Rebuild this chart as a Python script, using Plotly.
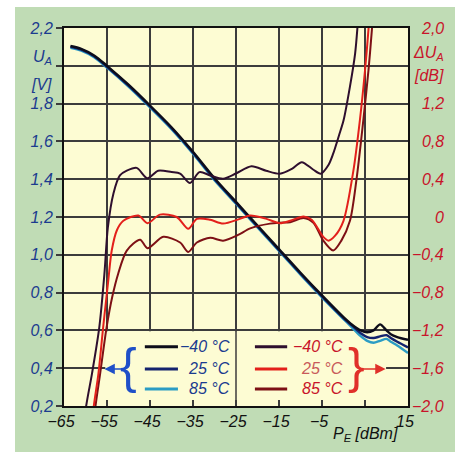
import plotly.graph_objects as go

# ---------------- data ----------------
# Output voltage U_A [V] vs input power P_E [dBm]
pe_ua = [-63.5, -61, -58, -55, -50, -45, -40, -35, -30, -25, -20, -15, -10, -5,
         0, 2, 4, 5.5, 7, 8.5, 10, 11, 12.5, 15]
ua_m40 = [2.105, 2.09, 2.055, 2.0, 1.90, 1.79, 1.675, 1.545, 1.405, 1.28, 1.155, 1.03, 0.905, 0.785,
          0.67, 0.63, 0.60, 0.59, 0.60, 0.632, 0.60, 0.58, 0.565, 0.55]
ua_25 = [2.10, 2.085, 2.05, 1.995, 1.895, 1.785, 1.67, 1.54, 1.40, 1.275, 1.15, 1.025, 0.90, 0.78,
         0.665, 0.625, 0.585, 0.565, 0.56, 0.568, 0.575, 0.56, 0.54, 0.51]
ua_85 = [2.095, 2.08, 2.045, 1.99, 1.89, 1.78, 1.665, 1.535, 1.395, 1.27, 1.145, 1.02, 0.895, 0.775,
         0.66, 0.615, 0.57, 0.545, 0.535, 0.545, 0.555, 0.54, 0.52, 0.48]

# Deviation dU_A [dB]
pe_m40 = [-60.6, -60.0, -58.5, -56.8, -55.6, -54.8, -53.5, -52, -50.4, -48.1, -45.6, -43.1, -40, -38,
          -35.7, -33.5, -31, -28, -25, -21.4, -18, -14.8, -12, -9.7, -7, -5.3, -3.5, -2.4, -1, 0,
          1.5, 2.7, 3.2, 3.5]
du_m40 = [-2.5, -2.05, -1.66, -1.17, -0.60, -0.11, 0.25, 0.44, 0.49, 0.52, 0.41, 0.49, 0.475, 0.46,
          0.36, 0.475, 0.44, 0.405, 0.46, 0.536, 0.49, 0.458, 0.51, 0.58, 0.50, 0.458, 0.55, 0.67, 0.87, 1.02,
          1.38, 1.73, 1.98, 2.2]
pe_25 = [-58.8, -58.2, -57.0, -55.9, -54.7, -53.9, -52.7, -51.2, -47.7, -45.6, -42.7, -38.8, -36.1, -34.1,
         -31, -28, -24.1, -21.7, -17.9, -14.8, -12.4, -9.3, -7.4, -4.7, -3.5, -2, 0, 2.3, 3.8, 5, 5.8, 6.1]
du_25 = [-2.5, -2.05, -1.66, -1.17, -0.67, -0.355, -0.14, -0.04, 0.016, -0.066, 0.025, 0.0, -0.125, -0.02,
         -0.03, -0.07, -0.02, 0.016, -0.02, -0.066, -0.04, 0.005, -0.03, -0.21, -0.25, -0.2, -0.04, 0.49,
         1.02, 1.55, 1.98, 2.2]
pe_85 = [-58.4, -57.8, -56.6, -55.1, -53.8, -52.4, -50.4, -47.3, -45.6, -41.9, -38, -36.1, -34.1, -31,
         -28, -24.5, -21.7, -17.1, -14.8, -12.4, -9.3, -7, -4.7, -2.4, -0.5, 1.5, 3.0, 4.6, 5.8, 6.6, 6.9]
du_85 = [-2.5, -2.05, -1.66, -1.17, -0.85, -0.60, -0.355, -0.24, -0.33, -0.21, -0.27, -0.37, -0.27, -0.22,
         -0.25, -0.19, -0.12, -0.07, -0.06, -0.055, -0.01, -0.06, -0.25, -0.355, -0.25, -0.04, 0.39, 1.02,
         1.55, 1.98, 2.2]

x_ticks = [-65, -55, -45, -35, -25, -15, -5, 5, 15]
x_labels = ["−65", "−55", "−45", "−35", "−25", "−15", "−5", "", "15"]
y_ticks = [0.2, 0.4, 0.6, 0.8, 1.0, 1.2, 1.4, 1.6, 1.8, 2.0, 2.2]
y_labels = ["0,2", "0,4", "0,6", "0,8", "1,0", "1,2", "1,4", "1,6", "1,8", "", "2,2"]
y2_ticks = [-2.0, -1.6, -1.2, -0.8, -0.4, 0.0, 0.4, 0.8, 1.2, 2.0]
y2_labels = ["−2,0", "−1,6", "−1,2", "−0,8", "−0,4", "0", "0,4", "0,8", "1,2", "2,0"]
legend_temps = ["−40 °C", "25 °C", "85 °C"]

# ---------------- style ----------------
FONT = "Liberation Sans, Arial, sans-serif"
BLUE_TXT = "#1b3b8f"
RED_TXT = "#c8142a"
GRID = "#3c3c3c"
C_UA = ["#0d0d1a", "#14236e", "#2b9cc4"]
C_DU = ["#2e0f2e", "#e3201b", "#7d1015"]


def it(s):
    return "<i>" + s + "</i>" if s else s


fig = go.Figure()
for x, y, c in [(pe_ua, ua_85, C_UA[2]), (pe_ua, ua_25, C_UA[1]), (pe_ua, ua_m40, C_UA[0])]:
    fig.add_trace(go.Scatter(x=x, y=y, mode="lines", line=dict(color=c, width=2.4, shape="spline", smoothing=0.8),
                             showlegend=False, hoverinfo="skip"))
for x, y, c in [(pe_85, du_85, C_DU[2]), (pe_25, du_25, C_DU[1]), (pe_m40, du_m40, C_DU[0])]:
    fig.add_trace(go.Scatter(x=x, y=y, yaxis="y2", mode="lines",
                             line=dict(color=c, width=2.0, shape="spline", smoothing=0.8),
                             showlegend=False, hoverinfo="skip"))

shapes = [
    # green frame and yellow plot area
    dict(type="rect", xref="paper", yref="paper", x0=-0.1424, x1=1.1366, y0=-0.1217, y1=1.0556,
         fillcolor="#c0dcb5", line=dict(width=0), layer="below"),
    dict(type="rect", xref="paper", yref="paper", x0=0, x1=1, y0=0, y1=1,
         fillcolor="#fdfcd3", line=dict(width=0), layer="below"),
    # legend panel hiding the grid
    dict(type="rect", xref="x", yref="y", x0=-55.4, x1=9.9, y0=0.227, y1=0.596,
         fillcolor="#fdfcd3", line=dict(width=0), layer="between"),
    dict(type="line", xref="x", yref="y", x0=-25, x1=-25, y0=0.2, y1=0.6,
         line=dict(color=GRID, width=1.5), layer="between"),
]
legend_rows = [0.513, 0.396, 0.290]
for i, yy in enumerate(legend_rows):
    shapes.append(dict(type="line", xref="x", yref="y", x0=-46.2, x1=-38.5, y0=yy, y1=yy,
                       line=dict(color=C_UA[i], width=3), layer="above"))
    shapes.append(dict(type="line", xref="x", yref="y", x0=-20.6, x1=-13.1, y0=yy, y1=yy,
                       line=dict(color=C_DU[i], width=3), layer="above"))

annotations = []
lab_font = dict(family=FONT, size=16, style="italic")
for i, yy in enumerate(legend_rows):
    annotations.append(dict(x=-25.9, y=yy, xref="x", yref="y", text=it(legend_temps[i]), showarrow=False,
                            xanchor="right", yanchor="middle", font=dict(lab_font, color=BLUE_TXT)))
    annotations.append(dict(x=0.4, y=yy, xref="x", yref="y", text=it(legend_temps[i]), showarrow=False,
                            xanchor="right", yanchor="middle",
                            font=dict(lab_font, color=("#c85a5a" if i == 1 else RED_TXT))))
# braces and arrows
annotations.append(dict(x=-50.0, y=0.41, xref="x", yref="y", text="{", showarrow=False,
                        xanchor="center", yanchor="middle",
                        font=dict(family="Liberation Sans", size=50, color="#1f4fc8")))
annotations.append(dict(x=-55.6, y=0.396, xref="x", yref="y", text="", showarrow=True, ax=22, ay=0,
                        arrowhead=2, arrowsize=1.3, arrowwidth=1.6, arrowcolor="#1f4fc8"))
annotations.append(dict(x=3.0, y=0.41, xref="x", yref="y", text="}", showarrow=False,
                        xanchor="center", yanchor="middle",
                        font=dict(family="Liberation Sans", size=50, color="#e0302a")))
annotations.append(dict(x=9.8, y=0.396, xref="x", yref="y", text="", showarrow=True, ax=-24, ay=0,
                        arrowhead=2, arrowsize=1.3, arrowwidth=1.6, arrowcolor="#e0302a"))
# right axis labels (right aligned)
for v, t in zip(y2_ticks, y2_labels):
    annotations.append(dict(x=1.1105, y=v, xref="paper", yref="y2", text=it(t), showarrow=False,
                            xanchor="right", yanchor="middle", font=dict(lab_font, color=RED_TXT)))
# axis titles
annotations += [
    dict(x=-0.029, y=2.045, xref="paper", yref="y", text=it("U<sub>A</sub>"), showarrow=False,
         xanchor="right", yanchor="middle", font=dict(lab_font, color=BLUE_TXT)),
    dict(x=-0.029, y=1.90, xref="paper", yref="y", text=it("[V]"), showarrow=False,
         xanchor="right", yanchor="middle", font=dict(lab_font, color=BLUE_TXT)),
    dict(x=1.1105, y=1.73, xref="paper", yref="y2", text=it("ΔU<sub>A</sub>"), showarrow=False,
         xanchor="right", yanchor="middle", font=dict(lab_font, color=RED_TXT)),
    dict(x=1.1105, y=1.50, xref="paper", yref="y2", text=it("[dB]"), showarrow=False,
         xanchor="right", yanchor="middle", font=dict(lab_font, color=RED_TXT)),
    dict(x=0.875, y=-0.075, xref="paper", yref="paper", text=it("P<sub>E</sub> [dBm]"), showarrow=False,
         xanchor="center", yanchor="middle", font=dict(lab_font, color="#111111")),
]

fig.update_layout(
    width=461, height=454,
    margin=dict(l=64, r=53, t=28, b=48),
    paper_bgcolor="white", plot_bgcolor="rgba(0,0,0,0)",
    showlegend=False,
    shapes=shapes, annotations=annotations,
    xaxis=dict(range=[-65, 15], tickvals=x_ticks, ticktext=[it(t) for t in x_labels], showgrid=True,
               gridcolor=GRID, gridwidth=1.5, zeroline=False, showline=True, mirror=True,
               linecolor="#111111", linewidth=2,
               ticks="inside", ticklen=6, tickwidth=1.5, tickcolor=GRID, ticklabelshift=-3,
               tickfont=dict(lab_font, color="#111111")),
    yaxis=dict(range=[0.2, 2.2], tickvals=y_ticks, ticktext=[it(t) for t in y_labels], showgrid=True,
               gridcolor=GRID, gridwidth=1.5, zeroline=False, showline=True, mirror=True,
               linecolor="#111111", linewidth=2,
               ticks="outside", ticklen=6, tickwidth=1.5, tickcolor=GRID,
               tickfont=dict(lab_font, color=BLUE_TXT)),
    yaxis2=dict(range=[-2.0, 2.0], overlaying="y", side="right", showgrid=False, zeroline=False,
                showticklabels=False, ticks="", showline=False),
)

fig.write_html("out.html", config={"displayModeBar": False},
               post_script="document.body.style.margin='0';")
